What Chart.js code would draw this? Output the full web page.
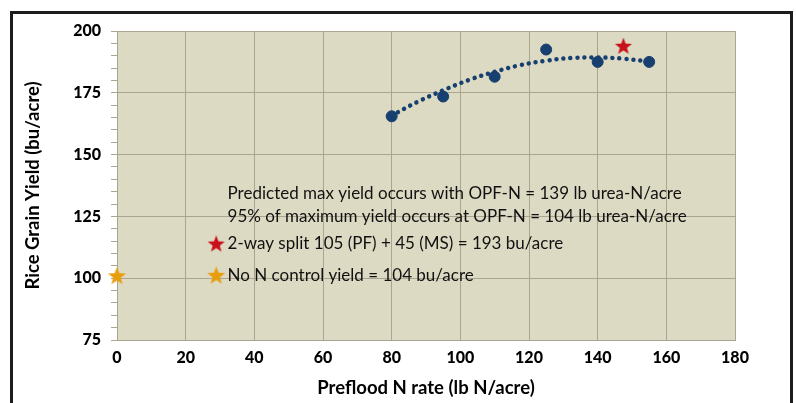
<!DOCTYPE html>
<html>
<head>
<meta charset="utf-8">
<script src="https://cdn.jsdelivr.net/npm/chart.js@4.4.1/dist/chart.umd.min.js"></script>
<style>
  body { margin: 0; background: #fff; }
  #wrap { position: relative; width: 796px; height: 403px; overflow: hidden; }
  #frame { position: absolute; left: 10px; top: 11px; width: 777px; height: 420px; border: 3px solid #1c1c1c; }
  canvas { position: absolute; left: 0; top: 0; }
</style>
</head>
<body>
<div id="wrap">
  <div id="frame"></div>
  <canvas id="myChart" width="796" height="403"></canvas>
</div>
<script>
// datos
const nRate = [80, 95, 110, 125, 140, 155];
const yieldObs = [165.5, 173.5, 181.5, 192.5, 187.5, 187.5];

const trendX = [80, 87.5, 95, 102.5, 110, 117.5, 125, 132.5, 140, 147.5, 155];
const trendY = [165.8, 171.3, 176, 180.2, 183.5, 186.2, 188, 189.1, 189.3, 188.8, 187.6];

const splitPoint = { x: 147.5, y: 194 };
const controlPoint = { x: 0, y: 101 };

const xTicks = [0, 20, 40, 60, 80, 100, 120, 140, 160, 180];
const yTicks = [75, 100, 125, 150, 175, 200];

const notas = [
  "Predicted max yield occurs with OPF-N = 139 lb urea-N/acre",
  "95% of maximum yield occurs at OPF-N = 104 lb urea-N/acre",
  "2-way split 105 (PF) + 45 (MS) = 193 bu/acre",
  "No N control yield = 104 bu/acre"
];
const notasY = [134.3, 124.9, 114, 101.2];

const navy = "#173f70";
const gridColor = "#aaa590";

function estrella(color, r) {
  const c = document.createElement("canvas");
  c.width = c.height = Math.ceil(2 * r + 2);
  const g = c.getContext("2d");
  const cx = c.width / 2, cy = c.height / 2 + r * 0.08;
  g.beginPath();
  for (let i = 0; i < 10; i++) {
    const rad = i % 2 === 0 ? r : r * 0.42;
    const ang = -Math.PI / 2 + i * Math.PI / 5;
    const px = cx + rad * Math.cos(ang), py = cy + rad * Math.sin(ang);
    if (i === 0) g.moveTo(px, py); else g.lineTo(px, py);
  }
  g.closePath();
  g.fillStyle = color;
  g.fill();
  return c;
}

const starRed = estrella("#c8101a", 9);
const starOrange = estrella("#e89d0c", 9.5);

// fondo del area del grafico
const fondo = {
  id: "fondo",
  beforeDraw(chart) {
    const { ctx, chartArea: a } = chart;
    ctx.save();
    ctx.fillStyle = "#dddac3";
    ctx.fillRect(a.left, a.top, a.right - a.left, a.bottom - a.top);
    ctx.restore();
  }
};

// textos dentro del grafico
const leyenda = {
  id: "leyenda",
  afterDatasetsDraw(chart) {
    const { ctx, scales } = chart;
    const x0 = scales.x.getPixelForValue(32.2);
    ctx.save();
    ctx.font = "17px Lato";
    ctx.fillStyle = "#111";
    ctx.textBaseline = "middle";
    notas.forEach((t, i) => {
      ctx.fillText(t, x0, scales.y.getPixelForValue(notasY[i]));
    });
    const sx = scales.x.getPixelForValue(28.9);
    ctx.drawImage(starRed, sx - starRed.width / 2, scales.y.getPixelForValue(notasY[2]) - starRed.height / 2);
    ctx.drawImage(starOrange, sx - starOrange.width / 2, scales.y.getPixelForValue(notasY[3]) - starOrange.height / 2);
    ctx.restore();
  }
};

const tickFont = { family: "Lato", weight: "900", size: 16 };
const titleFont = { family: "Lato", weight: "bold", size: 18.5 };

const config = {
  type: "scatter",
  data: {
    datasets: [
      {
        type: "line",
        data: trendX.map((x, i) => ({ x: x, y: trendY[i] })),
        borderColor: navy,
        borderWidth: 4.5,
        borderDash: [0.01, 7],
        borderCapStyle: "round",
        pointRadius: 0,
        tension: 0.4,
        fill: false
      },
      {
        data: nRate.map((x, i) => ({ x: x, y: yieldObs[i] })),
        backgroundColor: navy,
        borderColor: navy,
        pointRadius: 5.5
      },
      {
        data: [splitPoint],
        pointStyle: starRed,
        pointRadius: 9,
        clip: false
      },
      {
        data: [controlPoint],
        pointStyle: starOrange,
        pointRadius: 9,
        clip: false
      }
    ]
  },
  options: {
    responsive: false,
    animation: false,
    layout: { padding: { left: 0, top: 31, right: 61, bottom: 0 } },
    plugins: { legend: { display: false }, tooltip: { enabled: false } },
    scales: {
      x: {
        type: "linear",
        min: 0,
        max: 180,
        afterBuildTicks: (s) => { s.ticks = xTicks.map(v => ({ value: v })); },
        afterFit: (s) => { s.height = 63; },
        grid: { color: gridColor, drawTicks: false, lineWidth: 1 },
        border: { color: gridColor, width: 1 },
        ticks: { color: "#000", font: tickFont, padding: 8 },
        title: {
          display: true,
          text: "Preflood N rate (lb N/acre)",
          color: "#000",
          font: titleFont,
          padding: { top: 0, bottom: 4 }
        }
      },
      y: {
        min: 75,
        max: 200,
        afterBuildTicks: (s) => {
          const t = [];
          for (let v = 75; v <= 200; v += 5) t.push({ value: v });
          s.ticks = t;
        },
        afterFit: (s) => { s.width = 117; },
        grid: {
          color: (c) => (yTicks.includes(c.tick.value) ? gridColor : "rgba(0,0,0,0)"),
          tickColor: gridColor,
          tickLength: 6
        },
        border: { color: gridColor, width: 1 },
        ticks: {
          color: "#000",
          font: tickFont,
          padding: 10,
          autoSkip: false,
          callback: (v) => (yTicks.includes(v) ? v : "")
        },
        title: {
          display: true,
          text: "Rice Grain Yield (bu/acre)",
          color: "#000",
          font: titleFont,
          padding: { top: 22, bottom: 0 }
        }
      }
    }
  },
  plugins: [fondo, leyenda]
};

new Chart(document.getElementById("myChart"), config);
</script>
</body>
</html>
